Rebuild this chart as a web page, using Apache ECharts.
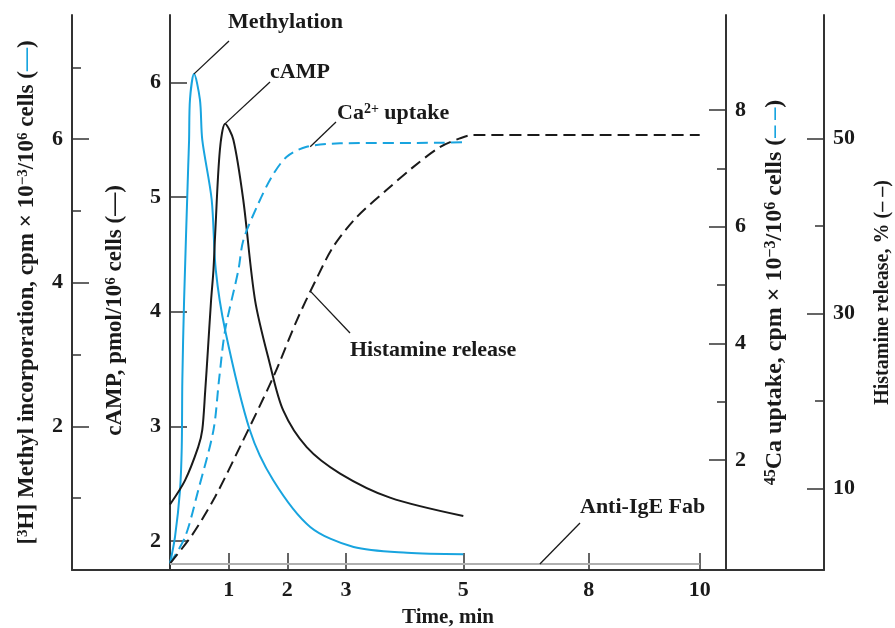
<!DOCTYPE html>
<html>
<head>
<meta charset="utf-8">
<script src="https://cdn.jsdelivr.net/npm/echarts@6/dist/echarts.min.js"></script>
<style>
html, body { margin: 0; background: #fff; }
#chart { width: 895px; height: 628px; }
</style>
</head>
<body>
<div id="chart"></div>
<script>
// time in minutes
const methylTime = [0, 0.085, 0.17, 0.2, 0.21, 0.24, 0.31, 0.325, 0.34, 0.41, 0.51, 0.55, 0.71, 0.78, 0.94, 1.36, 1.76, 2.39, 3.13, 4.04, 5];
const methylValue = [0.09, 0.46, 1.11, 1.71, 2.64, 3.76, 5.62, 5.99, 6.55, 6.91, 6.55, 5.99, 5.16, 4.18, 3.34, 1.95, 1.25, 0.6, 0.32, 0.24, 0.22];

const campTime = [0, 0.256, 0.48, 0.55, 0.6, 0.645, 0.7, 0.74, 0.77, 0.85, 0.94, 1.08, 1.25, 1.45, 1.7, 1.93, 2.33, 2.9, 3.75, 5];
const campValue = [2.32, 2.53, 2.82, 2.97, 3.31, 3.66, 4.1, 4.36, 4.68, 5.41, 5.64, 5.5, 4.97, 4.1, 3.55, 3.14, 2.82, 2.59, 2.38, 2.22];

const caTime = [0, 0.256, 0.48, 0.74, 0.835, 0.94, 1.164, 1.25, 1.48, 1.73, 1.99, 2.33, 2.9, 4.6, 4.98];
const caValue = [0.23, 0.68, 1.48, 2.51, 3.37, 4.23, 5.25, 5.77, 6.34, 6.85, 7.2, 7.37, 7.43, 7.44, 7.45];

const histTime = [0, 0.375, 0.767, 1.19, 1.76, 2.16, 2.47, 2.78, 3.18, 3.69, 4.15, 4.6, 4.94, 5.24, 10];
const histValue = [1.46, 4.7, 9.05, 14.75, 22.75, 29.2, 33.6, 37.6, 41.0, 44.1, 46.75, 49.0, 50.0, 50.4, 50.4];

const fabTime = [0, 10];
const fabValue = [1.4, 1.4];

const timeTicks = [1, 2, 3, 5, 8, 10];
const methylTicks = [2, 4, 6];
const methylMinor = [1, 3, 5, 7];
const campTicks = [2, 3, 4, 5, 6];
const caTicks = [2, 4, 6, 8];
const caMinor = [3, 5, 7];
const histTicks = [10, 30, 50];
const histMinor = [20, 40];

// the time axis of the figure is not linear past 5 min
const timeKnots = [0, 5, 8, 10];
const axisKnots = [0, 5, 7.14, 9.03];
function warp(t) {
  for (let i = 1; i < timeKnots.length; i++) {
    if (t <= timeKnots[i] || i == timeKnots.length - 1) {
      const f = (t - timeKnots[i - 1]) / (timeKnots[i] - timeKnots[i - 1]);
      return axisKnots[i - 1] + f * (axisKnots[i] - axisKnots[i - 1]);
    }
  }
}
function pairs(ts, vs) {
  return ts.map((t, i) => [warp(t), vs[i]]);
}

const BLUE = "#18a4df";
const INK = "#1a1a1a";
const AXIS = "#333";
const GREY = "#b0b0b0";
const FONT = "Liberation Serif";

function rich(size) {
  return {
    sup: { fontFamily: FONT, fontWeight: "bold", fontSize: Math.round(size * 0.65), color: INK, verticalAlign: "top", padding: [0, 0, 8, 0] },
    blue: { fontFamily: FONT, fontWeight: "bold", fontSize: size, color: BLUE },
  };
}

function majorAxis(pos, offset, min, max, ticks, name, gap, size, shift) {
  return {
    type: "value",
    position: pos,
    offset: offset,
    min: min,
    max: max,
    name: name,
    nameLocation: "middle",
    nameRotate: 90,
    nameGap: gap,
    nameTextStyle: {
      fontFamily: FONT, fontWeight: "bold", fontSize: size, color: INK, rich: rich(size),
      padding: shift ? [0, shift, 0, 0] : 0,
    },
    axisLine: { show: true, onZero: false, lineStyle: { color: AXIS, width: 2 } },
    axisTick: { show: true, inside: true, length: 17, customValues: ticks, lineStyle: { color: AXIS, width: 1.5 } },
    axisLabel: { show: true, customValues: ticks, margin: 9, fontFamily: FONT, fontWeight: "bold", fontSize: 22, color: INK },
    splitLine: { show: false },
  };
}
function minorAxis(pos, offset, min, max, ticks) {
  return {
    type: "value",
    position: pos,
    offset: offset,
    min: min,
    max: max,
    axisLine: { show: false, onZero: false },
    axisTick: { show: true, inside: true, length: 9, customValues: ticks, lineStyle: { color: AXIS, width: 1.5 } },
    axisLabel: { show: false },
    splitLine: { show: false },
  };
}

const chart = echarts.init(document.getElementById("chart"));

const option = {
  animation: false,
  backgroundColor: "#fff",
  grid: { left: 72, right: 71, top: 15, bottom: 58, outerBoundsMode: "none", containLabel: false },
  xAxis: {
    type: "value",
    min: -1.671,
    max: 11.149,
    name: "Time, min",
    nameLocation: "middle",
    nameGap: 37,
    nameTextStyle: { fontFamily: FONT, fontWeight: "bold", fontSize: 21, color: INK },
    axisLine: { show: true, onZero: false, lineStyle: { color: AXIS, width: 2 } },
    axisTick: { show: true, inside: true, length: 17, customValues: timeTicks.map(warp), lineStyle: { color: AXIS, width: 1.5 } },
    axisLabel: {
      customValues: timeTicks.map(warp),
      margin: 9,
      fontFamily: FONT,
      fontWeight: "bold",
      fontSize: 22,
      color: INK,
      formatter: (v) => {
        const i = timeTicks.findIndex((t) => Math.abs(warp(t) - v) < 1e-6);
        return i < 0 ? "" : String(timeTicks[i]);
      },
    },
    splitLine: { show: false },
  },
  yAxis: [
    majorAxis("left", 0, 0, 7.73, methylTicks,
      "[{sup|3}H] Methyl incorporation, cpm × 10{sup|−3}/10{sup|6} cells ({blue|—})", 33, 23),
    majorAxis("left", -98, 1.749, 6.587, campTicks, "cAMP, pmol/10{sup|6} cells (—)", 43, 23, 36),
    majorAxis("right", -98, 0.116, 9.63, caTicks,
      "{sup|45}Ca uptake, cpm × 10{sup|−3}/10{sup|6} cells ({blue|– –})", 37, 24),
    majorAxis("right", 0, 0.72, 64.09, histTicks, "Histamine release, % (– –)", 49, 20),
    minorAxis("left", 0, 0, 7.73, methylMinor),
    minorAxis("right", -98, 0.116, 9.63, caMinor),
    minorAxis("right", 0, 0.72, 64.09, histMinor),
  ],
  series: [
    {
      name: "Methylation", type: "line", yAxisIndex: 0, data: pairs(methylTime, methylValue),
      smooth: 0.3, showSymbol: false,
      lineStyle: { color: BLUE, width: 2 },
    },
    {
      name: "cAMP", type: "line", yAxisIndex: 1, data: pairs(campTime, campValue),
      smooth: 0.3, showSymbol: false,
      lineStyle: { color: INK, width: 2 },
    },
    {
      name: "Ca uptake", type: "line", yAxisIndex: 2, data: pairs(caTime, caValue),
      smooth: 0.3, showSymbol: false,
      lineStyle: { color: BLUE, width: 2, type: [11, 6] },
    },
    {
      name: "Histamine release", type: "line", yAxisIndex: 3, data: pairs(histTime, histValue),
      smooth: 0.3, showSymbol: false,
      lineStyle: { color: INK, width: 2, type: [12, 6] },
    },
    {
      name: "Anti-IgE Fab", type: "line", yAxisIndex: 3, data: pairs(fabTime, fabValue),
      showSymbol: false,
      lineStyle: { color: GREY, width: 2 },
    },
  ],
};
chart.setOption(option);

// callouts: leader from a point on the curve to the label
const notes = [
  { text: "Methylation", series: 0, at: [0.41, 6.91], end: [229, 41], label: [228, 22] },
  { text: "cAMP", series: 1, at: [0.94, 5.64], end: [270, 82], label: [270, 72] },
  { text: "Ca{sup|2+} uptake", series: 2, at: [2.39, 7.37], end: [336, 122], label: [337, 113] },
  { text: "Histamine release", series: 3, at: [2.4, 32.5], end: [350, 333], label: [350, 350] },
  { text: "Anti-IgE Fab", series: 4, at: [6.83, 1.4], end: [580, 523], label: [580, 507] },
];
const graphic = [];
notes.forEach((n) => {
  const p = chart.convertToPixel({ seriesIndex: n.series }, [warp(n.at[0]), n.at[1]]);
  graphic.push({
    type: "line",
    shape: { x1: p[0], y1: p[1], x2: n.end[0], y2: n.end[1] },
    style: { stroke: INK, lineWidth: 1.3 },
    z: 10,
  });
  graphic.push({
    type: "text",
    x: n.label[0],
    y: n.label[1],
    style: {
      text: n.text,
      fontFamily: FONT,
      fontWeight: "bold",
      fontSize: 22,
      fill: INK,
      verticalAlign: "middle",
      rich: { sup: { fontFamily: FONT, fontWeight: "bold", fontSize: 14, fill: INK, verticalAlign: "top", padding: [0, 0, 8, 0] } },
    },
    z: 10,
  });
});
chart.setOption({ graphic: graphic });
</script>
</body>
</html>
